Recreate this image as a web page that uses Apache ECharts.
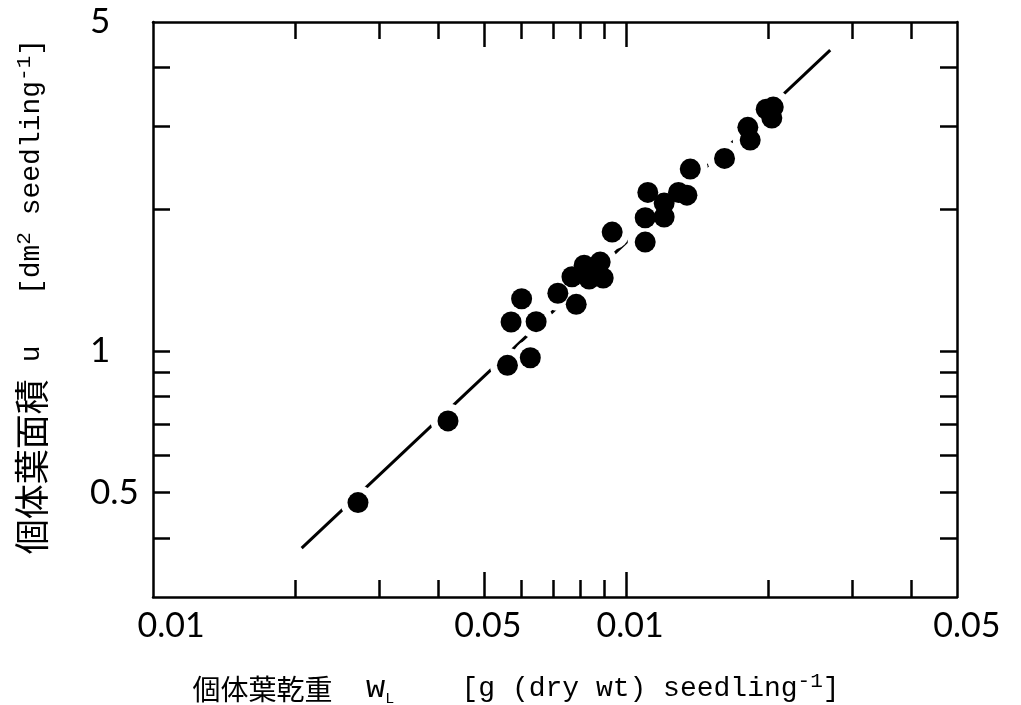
<!DOCTYPE html>
<html>
<head>
<meta charset="utf-8">
<script src="https://cdn.jsdelivr.net/npm/echarts@6/dist/echarts.min.js"></script>
<style>
  html, body { margin: 0; padding: 0; background: #fff; }
  #chart { width: 1021px; height: 705px; }
</style>
</head>
<body>
<div id="chart"></div>
<script>
// Leaf dry weight per seedling (g) and leaf area per seedling (dm^2)
const leafWeight = [0.00271, 0.00420, 0.00561, 0.00627, 0.00571, 0.00645, 0.00601, 0.00717, 0.00784, 0.00768,
  0.00815, 0.00881, 0.00835, 0.00894, 0.00856, 0.00934, 0.01097, 0.01111, 0.01203, 0.01097,
  0.01203, 0.01290, 0.01344, 0.01366, 0.01614, 0.01808, 0.01829, 0.01977, 0.02046, 0.02032];
const leafArea = [0.476, 0.710, 0.932, 0.967, 1.152, 1.154, 1.291, 1.326, 1.256, 1.438,
  1.522, 1.545, 1.422, 1.429, 1.486, 1.789, 1.704, 2.173, 2.062, 1.919,
  1.926, 2.173, 2.144, 2.436, 2.566, 2.988, 2.807, 3.266, 3.299, 3.126];

// Fitted allometric line, end points
const fitWeight = [0.00206, 0.0270];
const fitArea = [0.381, 4.36];

// Axis ticks and labels
const xLabelValues = [0.001, 0.005, 0.01, 0.05];
const xLabelText = ['0.01', '0.05', '0.01', '0.05'];
const xMinorTicks = [0.002, 0.003, 0.004, 0.006, 0.007, 0.008, 0.009, 0.02, 0.03, 0.04];
const xMajorTicks = [0.005, 0.01];
const yLabelValues = [0.5, 1, 5];
const yLabelText = ['0.5', '1', '5'];
const yTicks = [0.4, 0.5, 0.6, 0.7, 0.8, 0.9, 1, 2, 3, 4];

const X_MIN = 0.000999, X_MAX = 0.05005;
const Y_MIN = 0.2998, Y_MAX = 5.004;

const INK = '#000';
const MONO = '"Liberation Mono", "DejaVu Sans Mono", monospace';
const CJK = '"Noto Sans CJK JP", "Noto Sans CJK SC", sans-serif';
const NUM = 'Lato, "Open Sans", sans-serif';

function nearestIndex(values, v) {
  let best = 0;
  values.forEach((t, i) => {
    if (Math.abs(Math.log10(t) - Math.log10(v)) < Math.abs(Math.log10(values[best]) - Math.log10(v))) best = i;
  });
  return best;
}

function frameAxis(position, ticks, tickLen, extra) {
  const isX = position === 'top' || position === 'bottom';
  return Object.assign({
    type: 'log',
    logBase: 10,
    position: position,
    min: isX ? X_MIN : Y_MIN,
    max: isX ? X_MAX : Y_MAX,
    axisLine: { show: true, onZero: false, lineStyle: { color: INK, width: 2.5 } },
    axisTick: { show: true, inside: true, length: tickLen, customValues: ticks,
      lineStyle: { color: INK, width: 2.5 } },
    axisLabel: { show: false },
    splitLine: { show: false },
    minorTick: { show: false },
    minorSplitLine: { show: false }
  }, extra || {});
}

// per-label horizontal nudges on the bottom axis
const xLabelPad = [36, 8, 8, 20];

const xNameText = '{cjk|個体葉乾重}{lat|  }{w|w}{sub|L}{lat|    [g (dry wt) seedling}{sup|-1}{lat|]}';
const yNameText = '{cjk|個体葉面積}{lat| u   [dm}{sup|2}{lat| seedling}{sup|-1}{lat|]}';

const nameRich = (cjkSize) => ({
  cjk: { fontFamily: CJK, fontSize: cjkSize, lineHeight: 36, color: INK },
  lat: { fontFamily: MONO, fontSize: 28, lineHeight: 36, color: INK },
  w: { fontFamily: MONO, fontSize: 32, lineHeight: 36, color: INK },
  sub: { fontFamily: MONO, fontSize: 15, lineHeight: 15, verticalAlign: 'bottom', color: INK },
  sup: { fontFamily: MONO, fontSize: 21, lineHeight: 18, verticalAlign: 'top', color: INK }
});

const xLabelRich = {};
xLabelPad.forEach((p, i) => {
  xLabelRich['t' + i] = { fontFamily: NUM, fontWeight: 'normal', fontSize: 34, color: INK, padding: [0, 0, 0, p] };
});

const option = {
  backgroundColor: '#fff',
  animation: false,
  grid: { left: 153, right: 64, top: 22, bottom: 108, containLabel: false, outerBoundsMode: 'none' },
  xAxis: [
    frameAxis('bottom', xMinorTicks, 17, {
      axisLabel: {
        show: true,
        customValues: xLabelValues,
        margin: 12,
        formatter: (v) => {
          const i = nearestIndex(xLabelValues, v);
          return '{t' + i + '|' + xLabelText[i] + '}';
        },
        rich: xLabelRich
      },
      name: xNameText,
      nameLocation: 'middle',
      nameGap: 74,
      nameTextStyle: { padding: [0, 78, 0, 0], rich: nameRich(28) }
    }),
    frameAxis('bottom', xMajorTicks, 25, { axisLine: { show: false } }),
    frameAxis('top', xMinorTicks, 17),
    frameAxis('top', xMajorTicks, 25, { axisLine: { show: false } })
  ],
  yAxis: [
    frameAxis('left', yTicks, 17, {
      axisLabel: {
        show: true,
        customValues: yLabelValues,
        margin: 63,
        align: 'left',
        fontFamily: NUM,
        fontWeight: 'normal',
        fontSize: 35,
        color: INK,
        formatter: (v) => yLabelText[nearestIndex(yLabelValues, v)]
      },
      name: yNameText,
      nameLocation: 'middle',
      nameGap: 103,
      nameTextStyle: { padding: [0, 0, 0, 26], rich: nameRich(35) }
    }),
    frameAxis('right', yTicks, 17)
  ],
  series: [
    {
      type: 'line',
      xAxisIndex: 0,
      yAxisIndex: 0,
      data: fitWeight.map((w, i) => [w, fitArea[i]]),
      symbol: 'none',
      silent: true,
      lineStyle: { color: INK, width: 3 },
      z: 1
    },
    {
      // white clearance around each point, breaking the fitted line
      type: 'scatter',
      xAxisIndex: 0,
      yAxisIndex: 0,
      data: leafWeight.map((w, i) => [w, leafArea[i]]),
      symbol: 'circle',
      symbolSize: 35,
      silent: true,
      itemStyle: { color: '#fff', opacity: 1 },
      z: 2
    },
    {
      type: 'scatter',
      xAxisIndex: 0,
      yAxisIndex: 0,
      data: leafWeight.map((w, i) => [w, leafArea[i]]),
      symbol: 'circle',
      symbolSize: 21,
      itemStyle: { color: INK, opacity: 1 },
      z: 3
    }
  ]
};

const chart = echarts.init(document.getElementById('chart'), null, { renderer: 'canvas' });
chart.setOption(option);
</script>
</body>
</html>
